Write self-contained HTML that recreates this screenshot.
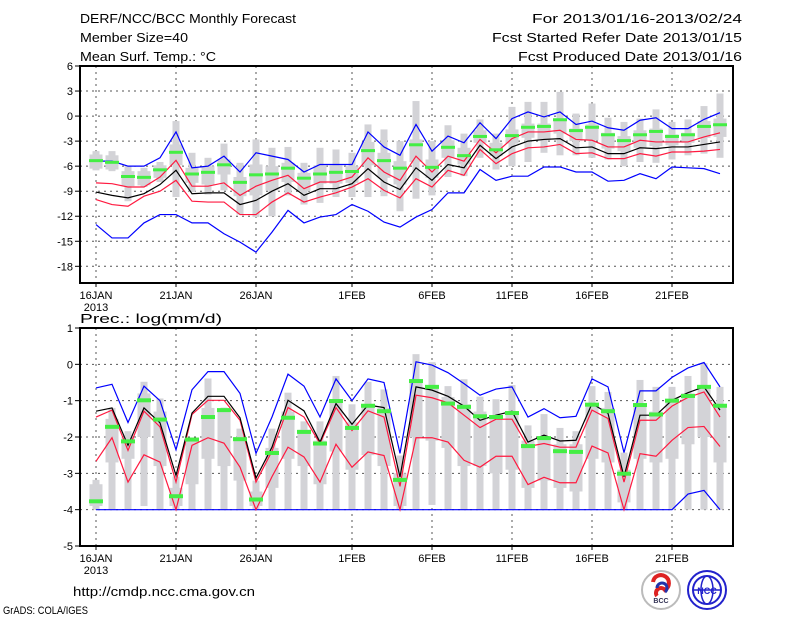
<!DOCTYPE html>
<html><head><meta charset="utf-8"><style>
html,body{margin:0;padding:0;background:#fff;width:800px;height:618px;overflow:hidden}
svg{display:block;font-family:"Liberation Sans",sans-serif}
</style></head><body>
<svg id="chart" width="800" height="618" xmlns="http://www.w3.org/2000/svg">
<rect width="800" height="618" fill="#fff"/>
<g font-size="13" fill="#000">
<text x="80" y="23" textLength="216" lengthAdjust="spacingAndGlyphs">DERF/NCC/BCC Monthly Forecast</text>
<text x="80" y="42" textLength="108" lengthAdjust="spacingAndGlyphs">Member Size=40</text>
<text x="80" y="61" textLength="136" lengthAdjust="spacingAndGlyphs">Mean Surf. Temp.: °C</text>
<text x="742" y="23" text-anchor="end" textLength="210" lengthAdjust="spacingAndGlyphs">For 2013/01/16-2013/02/24</text>
<text x="742" y="42" text-anchor="end" textLength="250" lengthAdjust="spacingAndGlyphs">Fcst Started Refer Date 2013/01/15</text>
<text x="742" y="61" text-anchor="end" textLength="224" lengthAdjust="spacingAndGlyphs">Fcst Produced Date 2013/01/16</text>
<text x="80" y="323" textLength="142" lengthAdjust="spacingAndGlyphs">Prec.: log(mm/d)</text>
<text x="73" y="596" textLength="182" lengthAdjust="spacingAndGlyphs">http://cmdp.ncc.cma.gov.cn</text>
<text x="3" y="614" font-size="11" textLength="85" lengthAdjust="spacingAndGlyphs">GrADS: COLA/IGES</text>
</g>
<g>
<circle cx="661" cy="590" r="19" fill="#fff" stroke="#bbb" stroke-width="2"/>
<path d="M653 582 a8 8 0 1 1 12 8 a5 5 0 1 0 -8 6" fill="none" stroke="#d22" stroke-width="4"/>
<path d="M657 588 a5 5 0 1 1 8 4" fill="none" stroke="#23a" stroke-width="3"/>
<text x="661" y="603" font-size="7" text-anchor="middle" font-weight="bold" fill="#335">BCC</text>
</g>
<g>
<circle cx="707" cy="590" r="19" fill="#fff" stroke="#22c" stroke-width="2"/>
<ellipse cx="707" cy="590" rx="14" ry="14" fill="none" stroke="#22c" stroke-width="2"/>
<ellipse cx="707" cy="590" rx="6" ry="14" fill="none" stroke="#22c" stroke-width="1.5"/>
<line x1="693" y1="590" x2="721" y2="590" stroke="#22c" stroke-width="1.5"/>
<text x="707" y="594" font-size="9" text-anchor="middle" font-weight="bold" fill="#22c">NCC</text>
</g>
<g id="plots"></g>
</svg>
<script>
// ---- data ----
const days = ["16JAN","21JAN","26JAN","1FEB","6FEB","11FEB","16FEB","21FEB"];
const dayIdx = [0,5,10,16,21,26,31,36];
const tTicks = [6,3,0,-3,-6,-9,-12,-15,-18];
const pTicks = [1,0,-1,-2,-3,-4,-5];
const tBlueHi = [-5.4,-5.4,-6.0,-6.0,-5.0,-1.9,-6.2,-6.0,-4.8,-6.7,-4.4,-4.8,-5.2,-6.7,-5.8,-5.8,-5.8,-1.9,-3.7,-4.7,-1.0,-4.2,-2.4,-3.2,-0.8,-2.7,-0.3,0.5,-0.1,0.5,-1.0,-0.6,-1.4,-1.7,-0.5,-0.2,-1.5,-1.5,-0.4,0.4];
const tRedHi = [-8.0,-8.1,-8.5,-8.5,-7.3,-5.3,-8.4,-8.4,-8.0,-9.5,-8.4,-7.7,-7.1,-8.7,-7.9,-7.9,-7.3,-5.0,-6.7,-7.7,-4.8,-6.7,-4.8,-5.4,-2.8,-4.4,-2.7,-1.9,-1.9,-1.7,-2.8,-2.9,-3.7,-3.7,-2.9,-3.1,-3.1,-3.1,-2.5,-2.0];
const tMean = [-9.1,-9.5,-9.8,-9.3,-8.2,-6.5,-9.3,-9.2,-9.2,-10.6,-10.1,-9.0,-8.1,-9.5,-8.7,-8.7,-8.1,-6.3,-7.9,-8.8,-6.2,-7.7,-5.8,-6.2,-3.5,-5.1,-3.7,-3.0,-2.8,-2.7,-3.8,-3.7,-4.5,-4.5,-3.8,-3.9,-3.7,-3.7,-3.4,-3.1];
const tRedLo = [-10.0,-10.6,-10.8,-9.6,-9.0,-7.7,-10.2,-10.3,-10.3,-11.8,-11.8,-10.3,-9.2,-10.3,-9.7,-9.2,-8.5,-7.5,-8.9,-9.8,-7.5,-8.5,-6.5,-7.1,-4.0,-5.7,-4.5,-3.8,-3.7,-3.4,-4.5,-4.4,-5.1,-5.1,-4.5,-4.8,-4.3,-4.3,-4.2,-4.0];
const tBlueLo = [-13.0,-14.6,-14.6,-12.8,-11.8,-11.8,-12.8,-12.8,-14.1,-15.1,-16.3,-13.9,-11.3,-12.8,-12.1,-11.8,-10.6,-11.4,-12.7,-13.3,-12.1,-11.2,-9.2,-9.2,-6.4,-7.7,-7.2,-7.2,-6.1,-6.1,-6.7,-6.7,-7.8,-7.7,-6.9,-7.5,-6.1,-6.2,-6.3,-6.9];
const tObs = [-5.4,-5.6,-7.3,-7.4,-6.5,-4.4,-7.0,-6.8,-5.9,-8.0,-7.1,-7.0,-6.3,-7.5,-7.0,-6.8,-6.7,-4.2,-5.4,-6.3,-3.5,-6.2,-3.8,-4.8,-2.5,-4.1,-2.4,-1.4,-1.3,-0.5,-1.8,-1.4,-2.3,-3.0,-2.3,-1.9,-2.5,-2.3,-1.3,-1.1];
const tMax = [-4.2,-4.2,-6.0,-6.2,-5.5,-0.6,-4.4,-5.0,-3.3,-5.6,-2.8,-3.8,-3.7,-5.6,-3.8,-4.0,-4.4,-1.0,-1.6,-3.0,1.8,-3.0,-1.1,-2.1,-0.4,-2.1,1.1,1.7,1.7,2.9,0.3,1.5,-0.2,-0.7,-0.3,0.8,-0.7,-0.4,1.2,2.7];
const tQ3 = [-4.6,-4.7,-6.6,-6.6,-5.9,-3.4,-6.2,-6.0,-5.2,-7.3,-5.8,-6.0,-5.6,-6.8,-5.9,-5.9,-6.0,-3.1,-4.4,-5.4,-2.8,-5.2,-2.9,-3.8,-1.7,-3.2,-1.6,-0.9,-0.9,-0.3,-1.5,-1.0,-2.0,-2.4,-1.7,-1.5,-2.2,-2.0,-0.6,-0.3];
const tQ1 = [-6.3,-6.4,-8.4,-8.3,-7.4,-5.9,-8.0,-8.2,-7.0,-9.6,-9.5,-8.9,-7.9,-9.0,-8.1,-8.1,-8.0,-5.9,-7.4,-8.2,-5.5,-7.4,-5.0,-5.8,-3.2,-4.8,-3.3,-2.6,-2.9,-2.1,-3.0,-2.9,-3.9,-4.2,-3.8,-3.6,-3.5,-3.2,-2.6,-2.5];
const tMin = [-6.5,-6.6,-10.2,-8.5,-7.9,-9.7,-9.1,-9.4,-8.9,-11.8,-12.1,-12.0,-9.5,-10.6,-10.4,-9.7,-9.7,-9.7,-9.6,-11.4,-9.9,-9.5,-7.3,-7.2,-5.0,-6.4,-6.0,-5.5,-4.4,-4.7,-4.7,-5.0,-5.2,-6.0,-5.5,-5.6,-5.2,-4.7,-4.5,-5.0];
const pBlueHi = [-0.65,-0.55,-1.6,-0.6,-1.0,-2.35,-0.7,-0.2,-0.2,-0.8,-2.45,-1.45,-0.27,-0.6,-1.45,-0.4,-1.0,-0.4,-0.5,-2.45,0.07,-0.02,-0.23,-0.53,-0.85,-0.68,-0.62,-1.45,-1.22,-1.47,-1.43,-0.4,-0.62,-2.43,-0.73,-0.73,-0.36,-0.1,0.05,-0.62];
const pRedHi = [-1.45,-1.26,-2.37,-1.29,-1.72,-3.24,-1.38,-0.99,-0.99,-1.54,-3.24,-2.39,-1.19,-1.45,-2.18,-1.19,-1.82,-1.28,-1.45,-3.36,-0.85,-0.92,-1.06,-1.4,-1.74,-1.51,-1.51,-2.26,-2.18,-2.28,-2.28,-1.26,-1.49,-3.24,-1.54,-1.54,-1.15,-0.91,-0.76,-1.45];
const pMean = [-1.29,-1.2,-2.23,-1.2,-1.61,-3.06,-1.34,-0.88,-0.88,-1.47,-3.13,-2.28,-0.99,-1.28,-2.14,-1.08,-1.65,-1.12,-1.19,-3.1,-0.62,-0.71,-0.88,-1.15,-1.54,-1.4,-1.29,-2.14,-1.95,-2.11,-2.09,-1.08,-1.35,-3.09,-1.4,-1.4,-0.99,-0.78,-0.62,-1.26];
const pRedLo = [-2.67,-2.02,-3.24,-2.49,-2.69,-4.0,-2.23,-2.02,-2.17,-2.83,-4.0,-3.09,-2.28,-2.55,-3.24,-2.2,-2.83,-2.41,-2.51,-4.0,-2.02,-2.02,-2.14,-2.64,-2.83,-2.53,-2.53,-3.31,-3.11,-3.26,-3.26,-2.25,-2.44,-4.0,-2.46,-2.53,-2.09,-1.74,-1.71,-2.26];
const pBlueLo = [-4,-4,-4,-4,-4,-4,-4,-4,-4,-4,-4,-4,-4,-4,-4,-4,-4,-4,-4,-4,-4,-4,-4,-4,-4,-4,-4,-4,-4,-4,-4,-4,-4,-4,-4,-4,-4,-3.57,-3.47,-4.0];
const pObs = [-3.77,-1.72,-2.12,-0.99,-1.52,-3.63,-2.07,-1.45,-1.26,-2.06,-3.72,-2.44,-1.47,-1.86,-2.18,-1.01,-1.75,-1.14,-1.29,-3.18,-0.46,-0.62,-1.08,-1.17,-1.43,-1.45,-1.34,-2.25,-2.03,-2.39,-2.41,-1.11,-1.29,-3.01,-1.12,-1.38,-1.0,-0.87,-0.62,-1.14];
const pMax = [-3.18,-1.2,-1.84,-0.48,-0.94,-3.09,-2.05,-0.39,-1.19,-1.77,-3.2,-1.77,-0.78,-1.57,-1.57,-0.32,-1.1,-0.48,-0.69,-2.51,0.28,0.06,-0.6,-0.41,-0.89,-0.96,-0.57,-1.68,-1.37,-1.75,-1.84,-0.6,-0.76,-2.43,-0.43,-0.62,-0.62,-0.32,0.03,-0.62];
const pQ3 = [-3.3,-1.5,-2.0,-0.8,-1.3,-3.4,-2.1,-1.2,-1.3,-2.0,-3.5,-2.3,-1.3,-1.8,-2.1,-1.0,-1.6,-1.1,-1.2,-3.0,-0.5,-0.6,-0.9,-1.1,-1.3,-1.4,-1.3,-2.1,-2.0,-2.2,-2.2,-1.1,-1.2,-2.9,-1.1,-1.3,-1.0,-0.8,-0.6,-1.1];
const pQ1 = [-3.9,-2.7,-2.6,-2.0,-2.8,-3.9,-3.3,-2.6,-2.8,-3.2,-3.9,-3.4,-2.6,-2.8,-3.3,-2.4,-2.9,-2.5,-2.8,-3.9,-2.0,-2.1,-2.3,-2.8,-2.8,-3.0,-2.9,-3.4,-3.2,-3.4,-3.5,-2.6,-2.7,-3.8,-2.6,-2.7,-2.6,-2.2,-2.0,-2.7];
const pMin = [-4,-4,-4,-3.9,-4,-4,-4,-4,-4,-4,-4,-4,-4,-4,-4,-4,-4,-4,-4,-4,-4,-3.87,-4,-4,-4,-4,-4,-4,-4,-4,-4,-4,-4,-4,-4,-4,-4,-4,-4,-4];

const NS="http://www.w3.org/2000/svg";
const root=document.getElementById('plots');
const X0=80,X1=733;
const xOf=d=>96+16*d;
function mk(tag,attrs,parent){const e=document.createElementNS(NS,tag);for(const k in attrs)e.setAttribute(k,attrs[k]);(parent||root).appendChild(e);return e;}

function panel(name,top,bot,vTop,vBot,ticks,S){
  const yOf=v=>top+(vTop-v)/(vTop-vBot)*(bot-top);
  const g=mk('g',{});
  
  
  ticks.forEach(t=>{if(t<vTop&&t>vBot){const l=mk('line',{x1:X0,x2:X1,y1:yOf(t),y2:yOf(t),stroke:'#555','stroke-width':1,'stroke-dasharray':'2,4'},g);}});
  dayIdx.forEach(d=>{const l=mk('line',{x1:xOf(d),x2:xOf(d),y1:top,y2:bot,stroke:'#555','stroke-width':1,'stroke-dasharray':'2,4'},g);});
  S.max.forEach((mx,i)=>{
    const x=xOf(i);
    const w=mk('rect',{x:x-3.5,y:yOf(mx),width:7,height:yOf(S.min[i])-yOf(mx),fill:'#d3d3d7'},g);
    
    const b=mk('rect',{x:x-6.5,y:yOf(S.q3[i]),width:13,height:yOf(S.q1[i])-yOf(S.q3[i]),fill:'#d3d3d7'},g);
    
  });
  const line=(arr,col,nm)=>{const p=mk('polyline',{points:arr.map((v,i)=>xOf(i)+','+yOf(v)).join(' '),fill:'none',stroke:col,'stroke-width':1.2},g);};
  line(S.blo,'#0000ff','lower-bound-line');
  line(S.rlo,'#ff1a40','lower-quantile-line');
  line(S.bhi,'#0000ff','upper-bound-line');
  line(S.rhi,'#ff1a40','upper-quantile-line');
  line(S.mean,'#000','ensemble-mean-line');
  S.obs.forEach((v,i)=>{const r=mk('rect',{x:xOf(i)-7,y:yOf(v)-2,width:14,height:S.gh,fill:'#44ee44'},g);});
  const f=mk('rect',{x:X0,y:top,width:X1-X0,height:bot-top,fill:'none',stroke:'#000','stroke-width':2},g);
  
  ticks.forEach(t=>{const y=yOf(t);mk('line',{x1:X0-5,x2:X0,y1:y,y2:y,stroke:'#000'},g);
    const tx=mk('text',{x:X0-7,y:y+4,'font-size':11,'text-anchor':'end'},g);tx.textContent=t;
    });
  dayIdx.forEach((d,k)=>{const x=xOf(d);mk('line',{x1:x,x2:x,y1:bot,y2:bot+4,stroke:'#000'},g);
    const tx=mk('text',{x:x,y:bot+16,'font-size':11,'text-anchor':'middle'},g);tx.textContent=days[k];
    });
  const yr=mk('text',{x:xOf(0),y:bot+28,'font-size':11,'text-anchor':'middle'},g);yr.textContent='2013';
  
}
panel('temperature-panel',66,283,6,-20,tTicks,{max:tMax,q3:tQ3,q1:tQ1,min:tMin,bhi:tBlueHi,rhi:tRedHi,mean:tMean,rlo:tRedLo,blo:tBlueLo,obs:tObs,gh:3});
panel('precipitation-panel',328,546,1,-5,pTicks,{max:pMax,q3:pQ3,q1:pQ1,min:pMin,bhi:pBlueHi,rhi:pRedHi,mean:pMean,rlo:pRedLo,blo:pBlueLo,obs:pObs,gh:4});
</script>
</body></html>
